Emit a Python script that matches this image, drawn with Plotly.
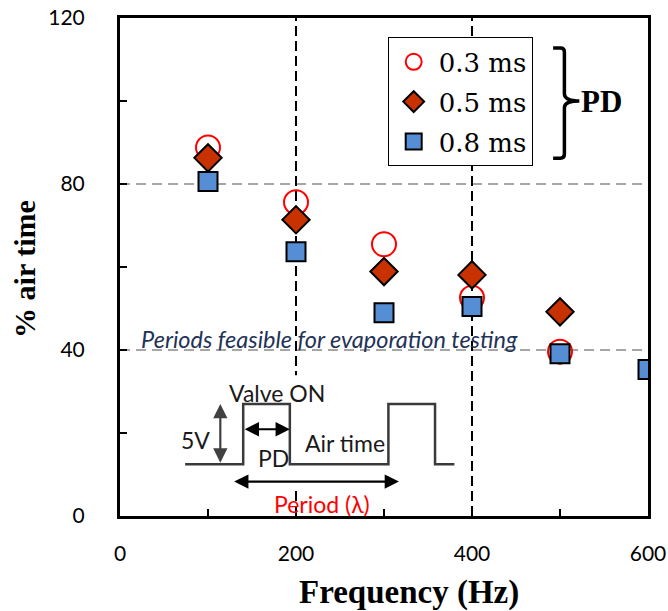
import plotly.graph_objects as go

# Frequency (Hz) and percentage of air time for each pulse duration (PD)
freq_03 = [100, 200, 300, 400, 500]
air_03 = [88.8, 75.6, 65.5, 52.6, 39.6]

freq_05 = [100, 200, 300, 400, 500]
air_05 = [86.3, 71.4, 58.9, 58.1, 49.2]

freq_08 = [100, 200, 300, 400, 500, 600]
air_08 = [80.6, 63.7, 49.0, 50.5, 39.1, 35.3]

x_ticks = [0, 100, 200, 300, 400, 500, 600]
x_tick_labels = ["0", "", "200", "", "400", "", "600"]
y_ticks = [0, 20, 40, 60, 80, 100, 120]
y_tick_labels = ["0", "", "40", "", "80", "", "120"]

SERIF = "Liberation Serif, Times New Roman, serif"
LEGEND_SERIF = "DejaVu Serif, serif"
SANS = "Lato, Open Sans, sans-serif"

fig = go.Figure()

fig.add_trace(go.Scatter(
    x=freq_03, y=air_03, mode="markers", name="0.3 ms", legendgroup="a",
    marker=dict(symbol="circle-open", size=24, color="#FF0000",
                line=dict(width=2, color="#FF0000")),
))
fig.add_trace(go.Scatter(
    x=freq_05, y=air_05, mode="markers", name="0.5 ms", legendgroup="b",
    marker=dict(symbol="diamond", size=21, color="#C83200",
                line=dict(width=2, color="#000000")),
))
fig.add_trace(go.Scatter(
    x=freq_08, y=air_08, mode="markers", name="0.8 ms", legendgroup="c",
    marker=dict(symbol="square", size=19, color="#558ED5",
                line=dict(width=2, color="#000000")),
))

shapes = []
# reference lines
for yv in (40, 80):
    shapes.append(dict(type="line", xref="x", yref="y", x0=0, x1=600, y0=yv, y1=yv,
                       line=dict(color="#A6A6A6", width=2, dash="10px,6px"), layer="below"))
for xv in (200, 400):
    shapes.append(dict(type="line", xref="x", yref="y", x0=xv, x1=xv, y0=0, y1=120,
                       line=dict(color="#000000", width=2, dash="10px,5px"), layer="below"))

# pulse-train schematic on a white panel
shapes.append(dict(type="rect", xref="x", yref="y", x0=57, x1=391, y0=7, y1=33.9,
                   fillcolor="white", line=dict(width=0), layer="below"))
wave_x = [74, 140, 140, 193, 193, 305, 305, 358, 358, 380]
wave_y = [12.5, 12.5, 27, 27, 12.5, 12.5, 27, 27, 12.5, 12.5]
path = "M " + " L ".join(f"{a},{b}" for a, b in zip(wave_x, wave_y))
shapes.append(dict(type="path", xref="x", yref="y", path=path,
                   line=dict(color="#3A3A3A", width=2.5), layer="below"))

# curly brace grouping the legend entries
brace = ("M 492.2,112.8 L 500.5,112.8 Q 505,112.8 505,111.8 L 505,101.8 "
         "Q 505,100 522,100 Q 505,100 505,98.4 L 505,87.2 "
         "Q 505,86.2 500.5,86.2 L 492.2,86.2")
shapes.append(dict(type="path", xref="x", yref="y", path=brace,
                   line=dict(color="#000000", width=3.5), layer="above"))

annotations = []


def arrow(x0, y0, x1, y1, color):
    annotations.append(dict(
        x=x1, y=y1, ax=x0, ay=y0, xref="x", yref="y", axref="x", ayref="y",
        text="", showarrow=True, arrowhead=2, startarrowhead=2, arrowside="end+start",
        arrowsize=1.3, startarrowsize=1.3, arrowwidth=2.2, arrowcolor=color,
    ))


arrow(114, 12.5, 114, 27, "#404040")
arrow(140, 20.9, 193, 20.9, "#000000")
arrow(128, 8.3, 317, 8.3, "#000000")


def label(x, y, text, size=23, color="#1A1A1A", family=SANS):
    annotations.append(dict(x=x, y=y, xref="x", yref="y", text=text, showarrow=False,
                            font=dict(family=family, size=size, color=color),
                            xanchor="center", yanchor="middle"))


label(178, 29.6, "Valve ON")
label(85.5, 18.3, "5V")
label(174, 14.0, "PD")
label(255.6, 17.6, "Air time")
label(229, 2.9, "Period (λ)", color="#FF0000")
label(238.6, 42.6, "<i>Periods feasible for evaporation testing</i>", size=23.5, color="#1F3358")
label(546.6, 100, "<b>PD</b>", size=31, color="#000000", family=SERIF)

# axis titles
annotations.append(dict(x=0.547, y=-0.153, xref="paper", yref="paper",
                        text="<b>Frequency (Hz)</b>", showarrow=False,
                        font=dict(family=SERIF, size=33, color="#000000"),
                        xanchor="center", yanchor="middle"))
annotations.append(dict(x=-0.18, y=0.496, xref="paper", yref="paper",
                        text="<b>% air time</b>", showarrow=False, textangle=-90,
                        font=dict(family=SERIF, size=30, color="#000000"),
                        xanchor="center", yanchor="middle"))

axis_common = dict(
    ticks="inside", ticklen=7, tickwidth=2, tickcolor="#000000",
    showline=True, linewidth=3, linecolor="#000000", mirror=True,
    showgrid=False, zeroline=False, automargin=False,
    tickfont=dict(family=SANS, size=21, color="#000000"),
)

fig.update_layout(
    width=668, height=611,
    margin=dict(l=120, r=20, t=18, b=95, autoexpand=False),
    plot_bgcolor="white", paper_bgcolor="white",
    shapes=shapes, annotations=annotations,
    showlegend=True,
    legend=dict(x=0.507, y=0.961, xanchor="left", yanchor="top",
                bgcolor="white", bordercolor="#000000", borderwidth=1,
                font=dict(family=LEGEND_SERIF, size=26, color="#000000"),
                itemwidth=40, tracegroupgap=3),
    xaxis=dict(range=[0, 600], tickvals=x_ticks, ticktext=x_tick_labels,
               ticklabelstandoff=17, **axis_common),
    yaxis=dict(range=[0, 120], tickvals=y_ticks, ticktext=y_tick_labels,
               ticklabelstandoff=28, **axis_common),
)

fig.write_html("out.html")
